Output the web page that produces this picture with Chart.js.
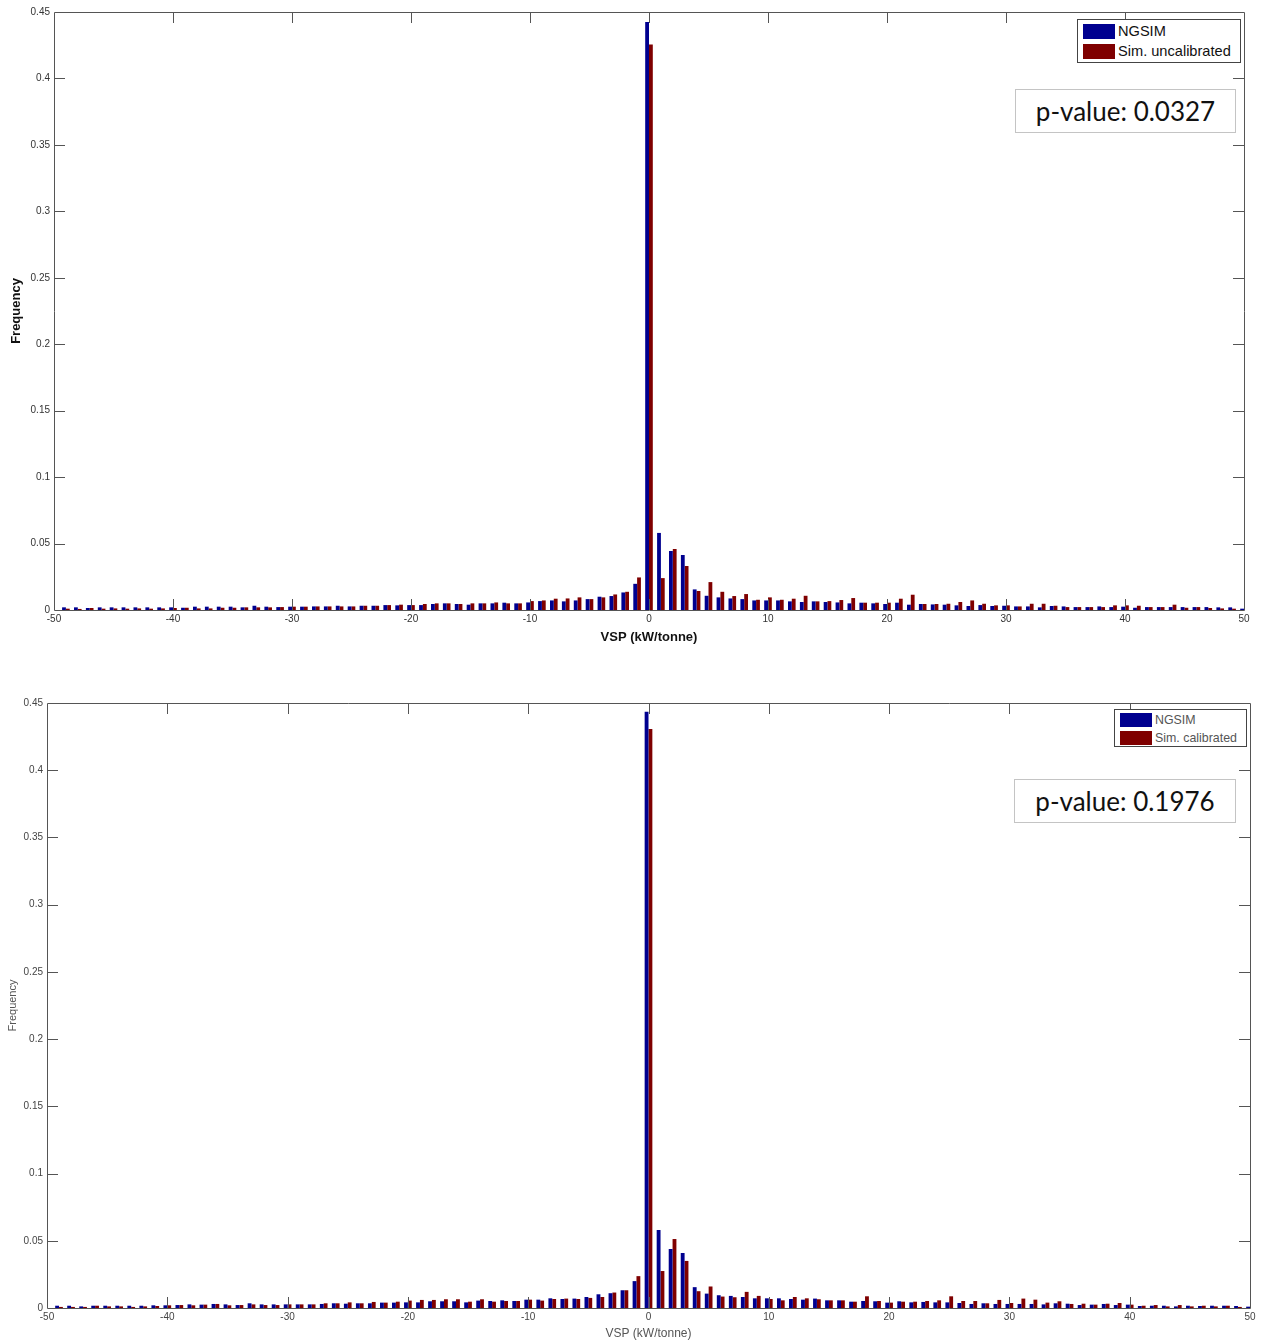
<!DOCTYPE html>
<html>
<head>
<meta charset="utf-8">
<script src="https://cdn.jsdelivr.net/npm/chart.js@4.4.1/dist/chart.umd.min.js"></script>
<style>
  body { margin: 0; background: #fff; width: 1267px; height: 1343px; position: relative; overflow: hidden; }
  .wrap { position: absolute; left: 0; width: 1267px; }
  .legend { position: absolute; background: #fff; border: 1px solid #444; font-family: "Liberation Sans", Arial, sans-serif; }
  .legend .row { display: flex; align-items: center; white-space: nowrap; }
  .legend .sw { display: inline-block; }
  .pbox { position: absolute; background: #fff; border: 1.5px solid #c4c4c4; font-family: Lato, "Open Sans", sans-serif; color: #111; text-align: center; }
</style>
</head>
<body>
<div class="wrap" style="top:0;height:649px"><canvas id="topChart"></canvas></div>
<div class="wrap" style="top:650px;height:695px"><canvas id="bottomChart"></canvas></div>

<div class="legend" id="legendTop" style="left:1077px;top:19px;width:162px;height:42px;"></div>
<div class="legend" id="legendBottom" style="left:1114px;top:709px;width:131px;height:36px;"></div>

<div class="pbox" style="left:1015px;top:89px;width:219px;height:42px;line-height:42px;font-size:26px;">p-value: 0.0327</div>
<div class="pbox" style="left:1014px;top:779px;width:220px;height:42px;line-height:42px;font-size:26px;">p-value: 0.1976</div>

<script>
// Центры интервалов VSP
const vspBins = [
  -50, -49, -48, -47, -46, -45, -44, -43, -42, -41,
  -40, -39, -38, -37, -36, -35, -34, -33, -32, -31,
  -30, -29, -28, -27, -26, -25, -24, -23, -22, -21,
  -20, -19, -18, -17, -16, -15, -14, -13, -12, -11,
  -10, -9, -8, -7, -6, -5, -4, -3, -2, -1,
  0, 1, 2, 3, 4, 5, 6, 7, 8, 9,
  10, 11, 12, 13, 14, 15, 16, 17, 18, 19,
  20, 21, 22, 23, 24, 25, 26, 27, 28, 29,
  30, 31, 32, 33, 34, 35, 36, 37, 38, 39,
  40, 41, 42, 43, 44, 45, 46, 47, 48, 49,
  50
];

// Верхний график: NGSIM vs Sim. uncalibrated
const ngsimTop = [
  0.0005, 0.002, 0.002, 0.0015, 0.002, 0.002, 0.002, 0.002, 0.002, 0.002,
  0.002, 0.0017, 0.0025, 0.0025, 0.0025, 0.0025, 0.002, 0.0032, 0.0025, 0.0022,
  0.0025, 0.0025, 0.0027, 0.0027, 0.0032, 0.0027, 0.0032, 0.0032, 0.0037, 0.0035,
  0.0037, 0.0037, 0.0045, 0.005, 0.0045, 0.004, 0.005, 0.005, 0.0055, 0.005,
  0.0057, 0.0067, 0.0072, 0.0065, 0.0072, 0.0082, 0.01, 0.0105, 0.0132, 0.0197,
  0.4425, 0.058, 0.0444, 0.0414, 0.0155, 0.0107, 0.0095, 0.0087, 0.0082, 0.0072,
  0.0072, 0.0072, 0.0065, 0.006, 0.0065, 0.006, 0.0057, 0.005, 0.0055, 0.005,
  0.0045, 0.0055, 0.004, 0.0045, 0.0042, 0.004, 0.0035, 0.003, 0.0037, 0.003,
  0.0032, 0.0027, 0.0027, 0.002, 0.003, 0.0027, 0.0022, 0.0022, 0.0027, 0.0022,
  0.0025, 0.0017, 0.0022, 0.0022, 0.0022, 0.0022, 0.0022, 0.0022, 0.002, 0.002,
  0.001
];
const simUncal = [
  0, 0.001, 0.0008, 0.0015, 0.001, 0.0012, 0.001, 0.0012, 0.001, 0.0012,
  0.0015, 0.0017, 0.0012, 0.0012, 0.0017, 0.0017, 0.002, 0.002, 0.002, 0.0022,
  0.0025, 0.0025, 0.0027, 0.0027, 0.0027, 0.0027, 0.0032, 0.0032, 0.0037, 0.004,
  0.0037, 0.0045, 0.005, 0.005, 0.0045, 0.005, 0.005, 0.0057, 0.005, 0.005,
  0.0067, 0.0072, 0.0085, 0.0087, 0.0095, 0.0082, 0.0095, 0.0117, 0.0137, 0.0245,
  0.4255, 0.024, 0.0459, 0.0331, 0.0143, 0.021, 0.0137, 0.0105, 0.012, 0.0077,
  0.0095, 0.0077, 0.0085, 0.0107, 0.0065, 0.0067, 0.0075, 0.009, 0.0055, 0.0055,
  0.0055, 0.0085, 0.0115, 0.0045, 0.0045, 0.0047, 0.006, 0.0072, 0.0047, 0.0035,
  0.0035, 0.0027, 0.0047, 0.0047, 0.0032, 0.0022, 0.0022, 0.0022, 0.0022, 0.0035,
  0.0035, 0.0032, 0.0022, 0.0022, 0.004, 0.0017, 0.0022, 0.0015, 0.0012, 0.001,
  0
];

// Нижний график: NGSIM vs Sim. calibrated
const ngsimBottom = [
  0.0005, 0.0017, 0.0017, 0.0012, 0.0017, 0.0017, 0.0017, 0.0017, 0.0017, 0.002,
  0.002, 0.0022, 0.0027, 0.0025, 0.003, 0.0027, 0.0022, 0.0035, 0.0027, 0.0027,
  0.0027, 0.0027, 0.0027, 0.003, 0.0035, 0.0032, 0.0035, 0.0035, 0.004, 0.004,
  0.0042, 0.0042, 0.005, 0.005, 0.005, 0.0042, 0.0055, 0.0052, 0.0057, 0.0052,
  0.0062, 0.0062, 0.0072, 0.0067, 0.007, 0.0082, 0.0102, 0.011, 0.0132, 0.02,
  0.4435, 0.058, 0.0439, 0.0409, 0.0155, 0.0107, 0.0095, 0.009, 0.0082, 0.0072,
  0.0072, 0.0072, 0.0067, 0.0062, 0.007, 0.0057, 0.0057, 0.0047, 0.0052, 0.005,
  0.004, 0.005, 0.0042, 0.0045, 0.0042, 0.0042, 0.0037, 0.003, 0.0035, 0.003,
  0.003, 0.003, 0.003, 0.0027, 0.0035, 0.0032, 0.0022, 0.0025, 0.003, 0.0022,
  0.0025, 0.0015, 0.0017, 0.0017, 0.0012, 0.0017, 0.0015, 0.0017, 0.0017, 0.0015,
  0.001
];
const simCal = [
  0, 0.0008, 0.0008, 0.0008, 0.0017, 0.0012, 0.0012, 0.0008, 0.0012, 0.0015,
  0.002, 0.0022, 0.002, 0.0025, 0.003, 0.002, 0.0022, 0.0027, 0.0022, 0.0022,
  0.0027, 0.0027, 0.0027, 0.0035, 0.0035, 0.0042, 0.0035, 0.0045, 0.004, 0.0047,
  0.0055, 0.006, 0.006, 0.0065, 0.0065, 0.0047, 0.0065, 0.0047, 0.0052, 0.0052,
  0.0062, 0.0055, 0.0067, 0.007, 0.0067, 0.0075, 0.0082, 0.0115, 0.0132, 0.0237,
  0.4307, 0.0275, 0.0513, 0.035, 0.0125, 0.016, 0.0085, 0.008, 0.012, 0.009,
  0.0067, 0.0057, 0.0082, 0.0072, 0.0065, 0.0057, 0.0057, 0.0047, 0.0087, 0.0052,
  0.004, 0.0047, 0.0047, 0.0052, 0.0057, 0.0087, 0.0052, 0.0052, 0.0035, 0.006,
  0.0037, 0.007, 0.0062, 0.004, 0.005, 0.003, 0.0032, 0.0025, 0.0032, 0.0037,
  0.0025, 0.0017, 0.0022, 0.0012, 0.0022, 0.0012, 0.0017, 0.0012, 0.0017, 0.0008,
  0
];

const blueColor = '#00008f';
const redColor = '#7f0000';

// Рамка и внутренние засечки как в MATLAB
const matlabAxes = {
    id: 'matlabAxes',
    afterDatasetsDraw(chart, args, opts) {
        const { ctx, chartArea: a, scales } = chart;
        const tickLen = opts.tickLen || 11;
        ctx.save();
        ctx.strokeStyle = opts.color || '#555';
        ctx.lineWidth = 1;
        ctx.beginPath();
        ctx.rect(Math.round(a.left) + 0.5, Math.round(a.top) + 0.5,
                 Math.round(a.right - a.left), Math.round(a.bottom - a.top));
        scales.x.ticks.forEach(t => {
            const px = Math.round(scales.x.getPixelForValue(t.value)) + 0.5;
            if (t.value <= scales.x.min || t.value >= scales.x.max) return;
            ctx.moveTo(px, a.bottom);
            ctx.lineTo(px, a.bottom - tickLen);
            ctx.moveTo(px, a.top);
            ctx.lineTo(px, a.top + tickLen);
        });
        scales.y.ticks.forEach(t => {
            const py = Math.round(scales.y.getPixelForValue(t.value)) + 0.5;
            if (t.value <= scales.y.min || t.value >= scales.y.max) return;
            ctx.moveTo(a.left, py);
            ctx.lineTo(a.left + tickLen, py);
            ctx.moveTo(a.right, py);
            ctx.lineTo(a.right - tickLen, py);
        });
        ctx.stroke();
        ctx.restore();
    }
};

function makeChart(canvasId, blueData, redData, redLabel, cfg) {
    const ctx = document.getElementById(canvasId);
    return new Chart(ctx, {
        type: 'bar',
        data: {
            datasets: [
                {
                    label: 'NGSIM',
                    data: vspBins.map((x, i) => ({ x: x, y: blueData[i] })),
                    backgroundColor: blueColor,
                    borderWidth: 0
                },
                {
                    label: redLabel,
                    data: vspBins.map((x, i) => ({ x: x, y: redData[i] })),
                    backgroundColor: redColor,
                    borderWidth: 0
                }
            ]
        },
        options: {
            responsive: true,
            maintainAspectRatio: false,
            animation: false,
            categoryPercentage: 0.64,
            barPercentage: 1.0,
            layout: { padding: { left: cfg.padLeft, right: cfg.padRight, top: cfg.padTop, bottom: 0 } },
            plugins: {
                legend: { display: false },
                tooltip: { enabled: false },
                matlabAxes: { color: cfg.axisColor, tickLen: 11 }
            },
            scales: {
                x: {
                    type: 'linear',
                    min: -50,
                    max: 50,
                    offset: false,
                    grid: { display: false, drawTicks: false },
                    border: { display: false },
                    ticks: {
                        stepSize: 10,
                        padding: 3,
                        color: cfg.tickColor,
                        font: { family: 'Liberation Sans', size: 10 },
                        maxRotation: 0,
                        callback: v => String(v)
                    },
                    title: {
                        display: true,
                        text: 'VSP (kW/tonne)',
                        color: cfg.titleColor,
                        font: { family: 'Liberation Sans', size: cfg.titleSize, weight: cfg.titleWeight },
                        padding: { top: 0, bottom: 4 }
                    },
                    afterFit: s => { s.height = cfg.xHeight; }
                },
                y: {
                    min: 0,
                    max: 0.45,
                    grid: { display: false, drawTicks: false },
                    border: { display: false },
                    ticks: {
                        stepSize: 0.05,
                        padding: 4,
                        color: cfg.tickColor,
                        font: { family: 'Liberation Sans', size: 10 },
                        callback: v => String(+v.toFixed(2))
                    },
                    title: {
                        display: true,
                        text: 'Frequency',
                        color: cfg.titleColor,
                        font: { family: 'Liberation Sans', size: cfg.yTitleSize, weight: cfg.titleWeight },
                        padding: { top: cfg.yTitlePad, bottom: 0 }
                    },
                    afterFit: s => { s.width = cfg.yWidth; }
                }
            }
        },
        plugins: [matlabAxes]
    });
}

function buildLegend(id, redLabel, sw, fontSize, color) {
    const el = document.getElementById(id);
    const items = [['NGSIM', blueColor], [redLabel, redColor]];
    el.innerHTML = items.map(([txt, c]) =>
        `<div class="row" style="height:${sw.h + 3}px;margin:${sw.m}px 0 0 5px;font-size:${fontSize}px;color:${color}">` +
        `<span class="sw" style="width:${sw.w}px;height:${sw.h}px;background:${c};margin-right:3px"></span>${txt}</div>`
    ).join('');
}

makeChart('topChart', ngsimTop, simUncal, 'Sim. uncalibrated', {
    padLeft: 0, padRight: 23, padTop: 12,
    yWidth: 54, xHeight: 39,
    axisColor: '#555', tickColor: '#333', titleColor: '#111',
    titleSize: 13, yTitleSize: 13, titleWeight: 'bold', yTitlePad: 9
});
makeChart('bottomChart', ngsimBottom, simCal, 'Sim. calibrated', {
    padLeft: 0, padRight: 17, padTop: 53,
    yWidth: 47, xHeight: 37,
    axisColor: '#555', tickColor: '#444', titleColor: '#555',
    titleSize: 12, yTitleSize: 11, titleWeight: 'normal', yTitlePad: 6
});

buildLegend('legendTop', 'Sim. uncalibrated', { w: 32, h: 15, m: 2 }, 14.6, '#111');
buildLegend('legendBottom', 'Sim. calibrated', { w: 32, h: 14, m: 1 }, 12.4, '#555');
</script>
</body>
</html>
